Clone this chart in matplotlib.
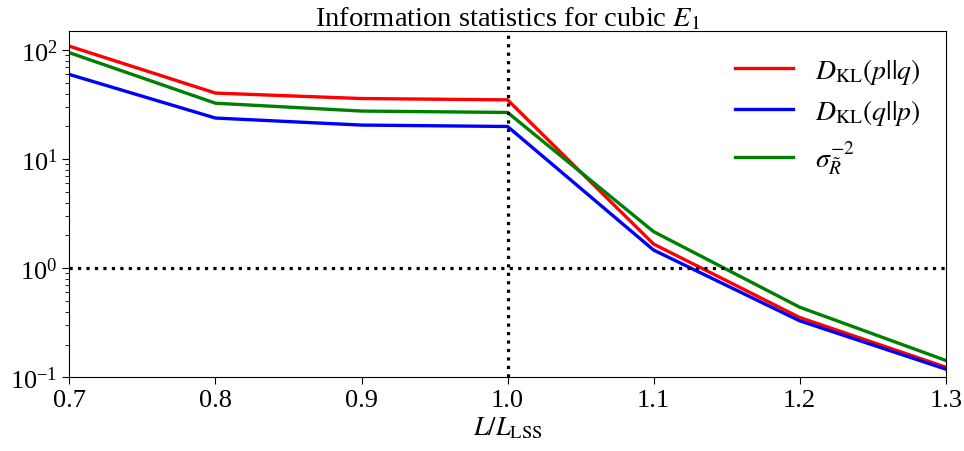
import matplotlib
matplotlib.use("Agg")
import matplotlib.pyplot as plt

plt.rcParams["font.family"] = ["Liberation Serif", "DejaVu Serif"]
plt.rcParams["mathtext.fontset"] = "stix"
plt.rcParams["font.size"] = 19

# L / L_LSS values and the three information statistics
ratio = [0.7, 0.8, 0.9, 1.0, 1.1, 1.2, 1.3]
dkl_pq = [109, 40.5, 36.1, 35.1, 1.67, 0.354, 0.124]
dkl_qp = [60, 23.9, 20.6, 20.0, 1.47, 0.33, 0.119]
sigma_inv2 = [95, 32.7, 27.7, 26.9, 2.17, 0.44, 0.143]


def main():
    fig, ax = plt.subplots(figsize=(9.64, 4.52), dpi=100)
    fig.subplots_adjust(left=0.072, right=0.981, top=0.929, bottom=0.163)

    ax.plot(ratio, dkl_pq, color="red", lw=2.4, label=r"$D_{\rm KL}(p||q)$")
    ax.plot(ratio, dkl_qp, color="blue", lw=2.4, label=r"$D_{\rm KL}(q||p)$")
    ax.plot(ratio, sigma_inv2, color="green", lw=2.4, label=r"$\sigma_{\tilde{R}}^{-2}$")

    ax.axvline(1.0, color="black", ls=":", lw=2.3)
    ax.axhline(1.0, color="black", ls=":", lw=2.3)

    ax.set_yscale("log")
    ax.set_xlim(0.7, 1.3)
    ax.set_ylim(0.1, 150)
    ax.set_xticks(ratio)
    ax.tick_params(which="major", length=5, labelsize=19)
    ax.tick_params(which="minor", length=3)

    ax.set_xlabel(r"$L/L_{\rm LSS}$", fontsize=19, labelpad=2)
    ax.set_title(r"Information statistics for cubic $E_1$", fontsize=20.5, pad=4)
    ax.legend(loc="upper right", frameon=False, fontsize=20, handlelength=2.1,
              labelspacing=0.4)

    fig.savefig("out.png")


if __name__ == "__main__":
    main()
